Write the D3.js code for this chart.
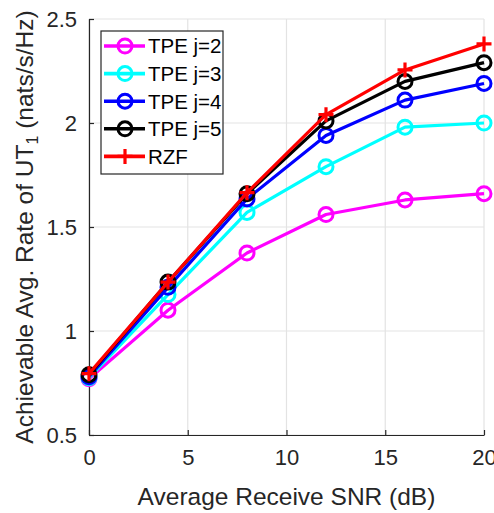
<!DOCTYPE html>
<html>
<head>
<meta charset="utf-8">
<script src="https://cdn.jsdelivr.net/npm/d3@7"></script>
<style>
  html, body { margin: 0; padding: 0; background: #fff; }
  svg { display: block; font-family: "Liberation Sans", Arial, Helvetica, sans-serif; }
</style>
</head>
<body>
<svg id="chart" width="494" height="513"></svg>
<script>
// ---- data ----
const snr = [0, 4, 8, 12, 16, 20];
const tpe2 = [0.77, 1.10, 1.375, 1.56, 1.63, 1.66];
const tpe3 = [0.775, 1.175, 1.57, 1.79, 1.98, 2.00];
const tpe4 = [0.78, 1.21, 1.635, 1.94, 2.11, 2.19];
const tpe5 = [0.79, 1.235, 1.66, 2.01, 2.20, 2.29];
const rzf  = [0.795, 1.235, 1.665, 2.04, 2.255, 2.38];
const seriesNames = ["TPE j=2", "TPE j=3", "TPE j=4", "TPE j=5", "RZF"];
const seriesColors = ["#ff00ff", "#00ffff", "#0000ff", "#000000", "#ff0000"];
const seriesMarkers = ["circle", "circle", "circle", "circle", "plus"];
const xTicks = [0, 5, 10, 15, 20];
const yTicks = [0.5, 1, 1.5, 2, 2.5];
const xTitle = "Average Receive SNR (dB)";

const seriesValues = [tpe2, tpe3, tpe4, tpe5, rzf];

// ---- layout ----
const svg = d3.select("#chart");
const L = 89, R = 484, T = 19, B = 435;
const x = d3.scaleLinear().domain([0, 20]).range([L, R]);
const y = d3.scaleLinear().domain([0.5, 2.5]).range([B, T]);

// grid
const grid = svg.append("g");
grid.selectAll("line.vx").data(xTicks).join("line")
  .attr("x1", d => x(d)).attr("x2", d => x(d))
  .attr("y1", T).attr("y2", B)
  .attr("stroke", "#e3e3e3").attr("stroke-width", 1.2);
grid.selectAll("line.hy").data(yTicks).join("line")
  .attr("x1", L).attr("x2", R)
  .attr("y1", d => y(d)).attr("y2", d => y(d))
  .attr("stroke", "#e3e3e3").attr("stroke-width", 1.2);

// axes
const xAxis = d3.axisBottom(x).tickValues(xTicks).tickSizeInner(-5).tickSizeOuter(0).tickPadding(14).tickFormat(d3.format("d"));
const yAxis = d3.axisLeft(y).tickValues(yTicks).tickSizeInner(-5).tickSizeOuter(0).tickPadding(12).tickFormat(d => String(d));

const gx = svg.append("g").attr("transform", `translate(0,${B})`).call(xAxis);
const gy = svg.append("g").attr("transform", `translate(${L},0)`).call(yAxis);
[gx, gy].forEach(g => {
  g.select(".domain").attr("stroke", "#262626").attr("stroke-width", 1.2);
  g.selectAll(".tick line").attr("stroke", "#262626").attr("stroke-width", 1.2);
  g.selectAll(".tick text").attr("fill", "#262626").attr("font-size", 22)
    .attr("font-family", "Liberation Sans, Arial, sans-serif");
});
gx.selectAll(".tick text").attr("dy", "0.71em");

// series
const line = d3.line().x((d, i) => x(snr[i])).y(d => y(d));
const plotG = svg.append("g");
function drawMarker(g, kind, cx, cy, color) {
  if (kind === "circle") {
    g.append("circle").attr("cx", cx).attr("cy", cy).attr("r", 7)
      .attr("fill", "none").attr("stroke", color).attr("stroke-width", 3);
  } else {
    g.append("path").attr("d", `M${cx - 7.5},${cy}H${cx + 7.5}M${cx},${cy - 7.5}V${cy + 7.5}`)
      .attr("stroke", color).attr("stroke-width", 3.2).attr("fill", "none");
  }
}
seriesValues.forEach((vals, si) => {
  const g = plotG.append("g");
  g.append("path").attr("d", line(vals)).attr("fill", "none")
    .attr("stroke", seriesColors[si]).attr("stroke-width", 3.2).attr("stroke-linejoin", "round");
  vals.forEach((v, i) => drawMarker(g, seriesMarkers[si], x(snr[i]), y(v), seriesColors[si]));
});

// legend
const leg = svg.append("g");
leg.append("rect").attr("x", 101).attr("y", 31).attr("width", 122).attr("height", 143)
  .attr("fill", "#fff").attr("stroke", "#262626").attr("stroke-width", 1.2);
seriesNames.forEach((name, i) => {
  const cy = 46 + i * 27.6;
  leg.append("line").attr("x1", 104).attr("x2", 145).attr("y1", cy).attr("y2", cy)
    .attr("stroke", seriesColors[i]).attr("stroke-width", 3.6);
  drawMarker(leg, seriesMarkers[i], 125, cy, seriesColors[i]);
  leg.append("text").attr("x", 148).attr("y", cy).attr("dy", "0.36em")
    .attr("font-size", 20.5).attr("fill", "#000").text(name);
});

// axis titles
svg.append("text").attr("x", (L + R) / 2).attr("y", 505).attr("text-anchor", "middle")
  .attr("font-size", 24.5).attr("fill", "#262626").text(xTitle);

const yt = svg.append("text").attr("transform", `translate(33,${(T + B) / 2}) rotate(-90)`)
  .attr("text-anchor", "middle").attr("font-size", 24.5).attr("fill", "#262626");
yt.append("tspan").text("Achievable Avg. Rate of UT");
yt.append("tspan").attr("font-size", 16).attr("dy", 5).text("1");
yt.append("tspan").attr("dy", -5).text(" (nats/s/Hz)");
</script>
</body>
</html>
